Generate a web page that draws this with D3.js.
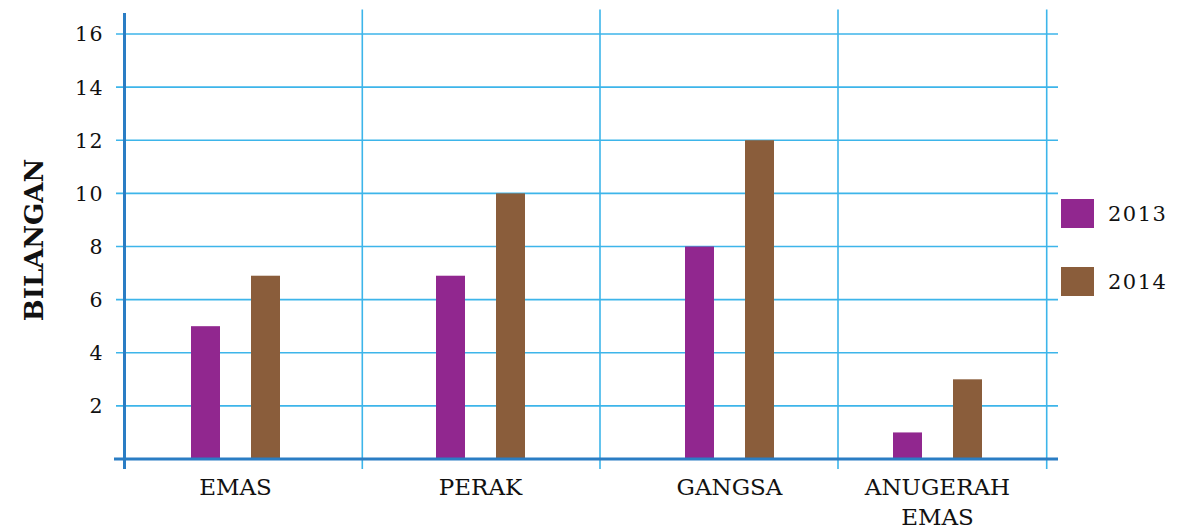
<!DOCTYPE html>
<html>
<head>
<meta charset="utf-8">
<script src="https://cdn.jsdelivr.net/npm/d3@7"></script>
<style>
  html, body { margin: 0; padding: 0; background: #fff; }
  svg { display: block; }
  text { font-family: "DejaVu Serif", serif; fill: #111; }
</style>
</head>
<body>
<svg id="chart" width="1177" height="530"></svg>
<script>
// ---- data ----
const categories = ["EMAS", "PERAK", "GANGSA", "ANUGERAH EMAS"];
const categoryLines = [["EMAS"], ["PERAK"], ["GANGSA"], ["ANUGERAH", "EMAS"]];
const seriesNames = ["2013", "2014"];
const values2013 = [5, 6.9, 8, 1];
const values2014 = [6.9, 10, 12, 3];
const yTicks = [2, 4, 6, 8, 10, 12, 14, 16];
const yLabel = "BILANGAN";
const colors = ["#91278f", "#8a5d3b"];

// ---- layout ----
const svg = d3.select("#chart");
const y = d3.scaleLinear().domain([0, 16]).range([459, 34]);
// piecewise x scale: band edges (integers) and category centres (half-integers)
const x = d3.scaleLinear()
  .domain([0, 0.5, 1, 1.5, 2, 2.5, 3, 3.5, 4])
  .range([124.5, 235.5, 362.3, 480.5, 600, 729.5, 838, 937.5, 1046.7]);
const inner = d3.scaleBand().domain(seriesNames).range([-44.5, 44.5])
  .paddingInner(31 / 60).paddingOuter(0);

const gridColor = "#3db5ea";
const axisColor = "#2a7dc4";

// horizontal gridlines
svg.append("g").selectAll("line").data(yTicks).join("line")
  .attr("x1", 116).attr("x2", 1058)
  .attr("y1", d => y(d)).attr("y2", d => y(d))
  .attr("stroke", gridColor).attr("stroke-width", 1.6);

// vertical gridlines (band edges)
svg.append("g").selectAll("line").data([1, 2, 3, 4]).join("line")
  .attr("x1", d => x(d)).attr("x2", d => x(d))
  .attr("y1", 9.5).attr("y2", 469)
  .attr("stroke", gridColor).attr("stroke-width", 1.6);

// bars
const rows = categories.map((c, i) => ({ i, vals: [values2013[i], values2014[i]] }));
const gBars = svg.append("g");
rows.forEach(r => {
  r.vals.forEach((v, s) => {
    gBars.append("rect")
      .attr("x", x(r.i + 0.5) + inner(seriesNames[s]))
      .attr("width", inner.bandwidth())
      .attr("y", y(v))
      .attr("height", y(0) - y(v))
      .attr("fill", colors[s]);
  });
});

// axes lines
svg.append("line").attr("x1", 114).attr("x2", 1058)
  .attr("y1", y(0)).attr("y2", y(0))
  .attr("stroke", axisColor).attr("stroke-width", 3);
svg.append("line").attr("x1", x(0)).attr("x2", x(0))
  .attr("y1", 13).attr("y2", 469)
  .attr("stroke", axisColor).attr("stroke-width", 3);

// y tick labels
svg.append("g").selectAll("text").data(yTicks).join("text")
  .attr("x", 104).attr("y", d => y(d)).attr("dy", "0.36em")
  .attr("text-anchor", "end")
  .style("font-size", "20.5px").style("letter-spacing", "1.5px")
  .text(d => d);

// category labels
categoryLines.forEach((lines, i) => {
  const t = svg.append("text")
    .attr("text-anchor", "middle")
    .style("font-size", "23px");
  lines.forEach((ln, k) => {
    t.append("tspan").attr("x", x(i + 0.5)).attr("y", 495 + k * 30).text(ln);
  });
});

// y axis title
svg.append("text")
  .attr("transform", "translate(43,240) rotate(-90)")
  .attr("text-anchor", "middle")
  .style("font-size", "26px").style("font-weight", "bold")
  .text(yLabel);

// legend
const lg = svg.append("g");
seriesNames.forEach((s, k) => {
  const ly = 199 + k * 68;
  lg.append("rect").attr("x", 1061).attr("y", ly).attr("width", 33).attr("height", 29)
    .attr("fill", colors[k]);
  lg.append("text").attr("x", 1108).attr("y", ly + 14.5).attr("dy", "0.36em")
    .style("font-size", "21px").style("letter-spacing", "1.5px")
    .text(s);
});
</script>
</body>
</html>
